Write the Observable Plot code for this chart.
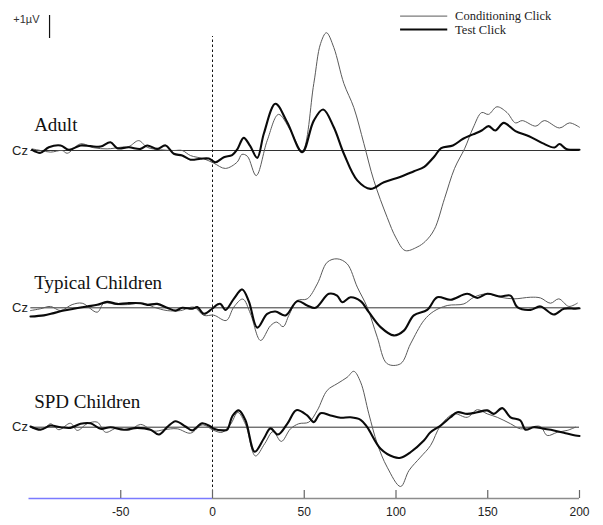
<!DOCTYPE html>
<html><head><meta charset="utf-8">
<script src="https://cdn.jsdelivr.net/npm/d3@7"></script>
<script src="https://cdn.jsdelivr.net/npm/@observablehq/plot@0.6"></script>
<style>body{margin:0;background:#fff}#chart{width:603px;height:525px}</style>
</head><body><div id="chart"></div>
<script>
// ---- data: [time (ms), amplitude (µV)] ----
const adultConditioning = [[-98.3,0.07],[-93.7,0],[-88.3,-0.07],[-81.9,0],[-79.2,-0.12],[-71.9,0.29],[-64.7,0.12],[-57.4,0.07],[-50.1,0.14],[-45.6,0.17],[-40.2,0.43],[-35.6,0.14],[-28.3,0.03],[-21.1,0],[-16.5,0],[-12,-0.22],[-4.7,-0.36],[0.7,-0.55],[7,-0.78],[13.5,-0.5],[16,-0.17],[19,-0.25],[23.8,-1.09],[29.8,0.43],[36,1.57],[42.5,0.87],[48.9,-0.03],[55.2,2.91],[58.9,4.65],[62.1,5.12],[66.1,4.48],[71.6,2.91],[77,1.87],[82.5,0.30],[87.9,-1.30],[95.2,-2.91],[100,-3.8],[105,-4.35],[111.5,-4.2],[116,-3.95],[120.9,-3.43],[126.4,-2.10],[131.9,-0.78],[137.5,0.10],[142,0.98],[146.7,1.65],[150.4,1.57],[155,1.90],[160.5,1.65],[165.1,1.20],[168.8,1.30],[176.2,1.06],[180.8,1.30],[189.1,0.98],[194.6,1.20],[200,1.01]];
const adultTest = [[-98.3,0.03],[-93.7,-0.10],[-89.2,0.14],[-82.8,0.22],[-78.3,0.03],[-71.9,0.22],[-66.5,0.19],[-61,0.17],[-55.6,0.36],[-51.9,0.10],[-45.6,0.14],[-39.2,0.07],[-35.6,0.22],[-30.1,0.07],[-25.6,0.22],[-21.1,-0.14],[-16.5,-0.22],[-12,-0.40],[-6.5,-0.36],[-2,-0.35],[1.6,-0.51],[6.2,-0.29],[10.7,-0.2],[13.5,0.05],[17,0.55],[20.5,0.2],[24.4,-0.32],[28,0.74],[34.3,2.03],[40.7,1.23],[48.9,-0.07],[55.2,1.30],[60.3,1.78],[66.1,1.01],[71.6,-0.14],[78.9,-1.30],[86.1,-1.67],[93.4,-1.38],[102.2,-1.15],[109.8,-0.90],[115.4,-0.71],[120.9,-0.26],[124.6,0.10],[131,0.22],[136.6,0.51],[142,0.70],[146.7,0.87],[150.4,1.06],[154.1,0.87],[158.7,1.20],[165.1,0.84],[172.5,0.62],[179.8,0.32],[186.4,0.13],[189.1,0.28],[192.8,0.07],[200,0.03]];
const typicalConditioning = [[-99.2,-0.12],[-93.7,-0.04],[-88.3,0.06],[-82.8,-0.12],[-76.5,0.14],[-71,0.20],[-62.8,-0.19],[-59.2,0.20],[-51.9,0.14],[-46.5,0.14],[-37.4,0.20],[-32,0.03],[-24.7,-0.12],[-17.4,-0.12],[-10.2,0.03],[-4.7,-0.33],[0.7,-0.32],[7.5,-0.55],[11.6,0.03],[16.5,0.38],[20.7,-0.26],[26.2,-1.42],[31.6,-0.78],[35,-0.62],[38.5,-0.82],[41.6,-0.33],[46.2,0.32],[51.6,0.39],[57.1,1.04],[62.5,1.98],[67.9,2.13],[73.4,1.91],[78.9,0.90],[84.3,0.03],[89.8,-1.28],[95.2,-2.43],[102.5,-2.43],[107.9,-1.57],[115.2,-0.55],[120.6,-0.15],[127.9,0.10],[137,0.17],[142.4,0.46],[149.7,0.61],[157,0.46],[164.2,0.39],[173.3,0.46],[178.7,0.43],[184.2,0.20],[188.7,0.39],[194.2,0.06],[198.8,0.20]];
const typicalTest = [[-99.2,-0.38],[-91.9,-0.33],[-86.5,-0.23],[-81,-0.12],[-75.6,-0.04],[-68.3,0.06],[-62.8,0.13],[-57.4,0.26],[-51.9,0.17],[-46.5,0.20],[-39.2,0.20],[-35.6,0.13],[-30.1,0.17],[-24.7,0],[-20.2,-0.12],[-16.5,0],[-11.1,-0.04],[-8.3,0.03],[-4.7,-0.26],[-0.2,-0.04],[2.6,0.14],[4.4,0.17],[7.1,-0.09],[11.6,0.39],[16.2,0.80],[19.8,0.28],[24.4,-0.86],[29.8,-0.26],[34.3,-0.16],[39.8,-0.33],[46.2,0.29],[51.6,0.10],[56.1,0],[63.4,0.61],[67.9,0.53],[70.7,0.24],[75.2,0.46],[80.7,0.29],[85.2,-0.19],[91.6,-0.84],[98.8,-1.20],[104.3,-0.99],[109.7,-0.33],[117,-0.09],[122.5,0.46],[129.7,0.35],[138.8,0.61],[144.3,0.43],[149.7,0.61],[157,0.49],[162.4,0.53],[166.1,0.03],[173.3,-0.09],[178.7,0.06],[186,-0.29],[191.5,-0.04],[197.8,-0.04],[200,-0.02]];
const spdConditioning = [[-98.3,-0.03],[-91.9,-0.07],[-88.3,0.15],[-83.7,-0.11],[-77.4,0.17],[-73.7,-0.14],[-68.3,0.15],[-62.8,0.22],[-58.3,-0.22],[-51.9,-0.03],[-45.6,-0.14],[-39.2,0.12],[-32,-0.17],[-26.5,-0.11],[-19.2,-0.07],[-12,-0.26],[-5.6,0.1],[0.7,-0.14],[5.3,-0.22],[9.8,0.12],[13.8,0.64],[18,0.12],[23.4,-1.25],[28.5,-0.71],[33,-0.19],[37.5,-0.62],[42.5,-0.07],[47,0.15],[52.5,0.22],[57.1,0.73],[62.5,1.60],[67.9,1.89],[73.4,2.17],[77,2.43],[80.7,1.96],[85.2,0.58],[89.8,-0.72],[95.2,-1.74],[102.5,-2.58],[107.1,-1.88],[113.4,-1.30],[118.8,-0.80],[124.3,0.07],[131.6,0.58],[138.8,0.43],[144.3,0.76],[149.7,0.58],[155.2,0.43],[162.4,0.15],[167.8,-0.07],[173.3,0],[178.7,0.03],[182.4,-0.36],[187.9,-0.22],[193.3,-0.14],[197.8,0]];
const spdTest = [[-99.2,0.03],[-93.7,-0.11],[-88.3,0.07],[-82.8,0],[-77.4,-0.03],[-71.9,0.15],[-66.5,0.17],[-61,-0.07],[-55.6,0],[-48.3,-0.11],[-41,-0.03],[-33.8,-0.11],[-29.2,-0.32],[-24.7,0],[-20.2,0.26],[-14.7,0.03],[-11.1,-0.14],[-5.6,0.17],[-1.1,0.03],[0.7,-0.07],[6.2,-0.14],[8,-0.11],[11,0.5],[14.3,0.73],[18,0.29],[23,-1.07],[28,-0.49],[31.6,-0.05],[35.7,-0.32],[41,0.18],[45.7,0.74],[51.6,0.51],[55.2,0.22],[58.9,0.61],[64.3,0.51],[69.8,0.41],[75.2,0.43],[80.7,0.32],[84.3,0],[91.6,-0.94],[98.8,-1.30],[102.5,-1.33],[107.9,-1.09],[115.2,-0.58],[118.8,-0.22],[124.3,0.07],[129.7,0.43],[133.4,0.65],[138.8,0.58],[144.3,0.65],[149.7,0.73],[153.3,0.58],[157.9,0.83],[162.4,0.43],[167.8,0.29],[170.6,-0.11],[175.1,0],[180.6,-0.07],[186,-0.14],[192.4,-0.26],[197.8,-0.36],[200,-0.38]];

const panelNames = ["Adult", "Typical Children", "SPD Children"];
const panelOffsets = [0, -6.84, -12.03];        // µV offsets of each group's baseline
const conditionNames = ["Conditioning Click", "Test Click"];
const xTicks = [-50, 0, 50, 100, 150, 200];
const scaleBarLabel = "+1µV";

// ---- layout constants ----
const W = 603, H = 525;
const pxPerUV = 23, adultBasePx = 150, axisPx = 498;
const yTop = adultBasePx / pxPerUV;
const yBottom = (adultBasePx - axisPx) / pxPerUV;
const px = p => (adultBasePx - p) / pxPerUV;   // pixel row -> µV on the y scale

const series = [
  [adultConditioning, adultTest],
  [typicalConditioning, typicalTest],
  [spdConditioning, spdTest]
];
const rows = [];
series.forEach((pair, i) => pair.forEach((arr, c) => arr.forEach(([t, v]) =>
  rows.push({t, v: v + panelOffsets[i], panel: panelNames[i], cond: conditionNames[c]}))));
const panels = panelNames.map((name, i) => ({name, offset: panelOffsets[i]}));

const condStyle = {"Conditioning Click": {stroke: "#5a5a5a", w: 1}, "Test Click": {stroke: "#0a0a0a", w: 2.1}};
const legend = conditionNames.map((name, i) => ({name, y: px(15.6 + i * 13.4)}));

const serif = "Liberation Serif, Times New Roman, serif";
const sans = "Liberation Sans, Arial, sans-serif";

const chart = Plot.plot({
  width: W, height: H,
  marginLeft: 28.5, marginRight: 24, marginTop: 0, marginBottom: H - axisPx,
  x: {domain: [-100, 200], label: null},
  y: {domain: [yBottom, yTop], axis: null, label: null},
  style: {fontFamily: sans, background: "#fff", overflow: "visible"},
  marks: [
    // baselines
    Plot.ruleY(panels, {y: "offset", x1: -99, x2: 200, stroke: "#333", strokeWidth: 1}),
    // stimulus onset
    Plot.ruleX([0], {y1: px(492), y2: px(36), stroke: "#111", strokeDasharray: "2.5,2.5", strokeWidth: 1}),
    // waveforms
    ...conditionNames.map(c => Plot.line(rows.filter(r => r.cond === c), {
      x: "t", y: "v", z: "panel", curve: "catmull-rom",
      stroke: condStyle[c].stroke, strokeWidth: condStyle[c].w, strokeLinejoin: "round"
    })),
    // x axis line (pre-stimulus blue, post-stimulus gray)
    Plot.ruleY([yBottom], {x1: -100, x2: 0, stroke: "#7a7aff", strokeWidth: 1.6}),
    Plot.ruleY([yBottom], {x1: 0, x2: 200, stroke: "#8c8c8c", strokeWidth: 1.6}),
    Plot.ruleX(xTicks, {y1: yBottom, y2: yBottom + 8 / pxPerUV, stroke: "#666", strokeWidth: 1.2}),
    Plot.axisX({ticks: xTicks, tickSize: 0, tickPadding: 9, fontSize: 12, fill: "#222", tickFormat: d => String(d), fontFamily: sans}),
    // Cz labels
    Plot.text(panels, {x: -100, y: "offset", text: () => "Cz", textAnchor: "end", dx: -1, fontSize: 13, fill: "#222", fontFamily: sans}),
    // group labels
    Plot.text(panels, {x: -97.2, y: d => d.offset + 1.1, text: "name", textAnchor: "start", fontSize: 19, fill: "#111", fontFamily: serif}),
    // scale bar
    Plot.ruleX([-88.8], {y1: px(15), y2: px(15) - 1, stroke: "#111", strokeWidth: 1.2}),
    Plot.text([scaleBarLabel], {x: -88.8, y: px(19), text: d => d, textAnchor: "end", dx: -10, fontSize: 11, fill: "#333", fontFamily: sans}),
    // legend
    Plot.ruleY(legend, {y: "y", x1: 102.5, x2: 128.2, stroke: d => condStyle[d.name].stroke, strokeWidth: d => condStyle[d.name].w}),
    Plot.text(legend, {x: 132.2, y: "y", text: "name", textAnchor: "start", fontSize: 12.5, fill: "#222", fontFamily: serif})
  ]
});
document.getElementById("chart").append(chart);
</script>
</body></html>
